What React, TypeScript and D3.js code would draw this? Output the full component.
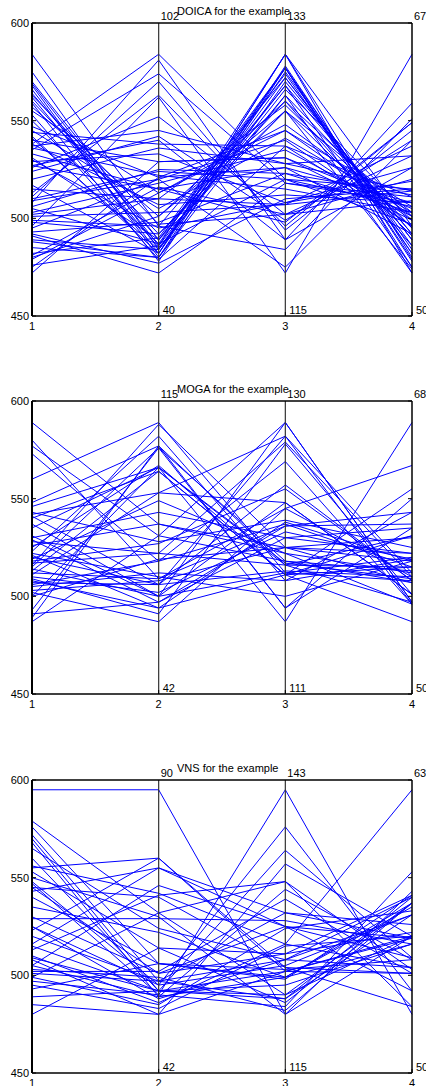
import * as d3 from 'd3';

const axes = ['1', '2', '3', '4'];
const yTicks = [450, 500, 550, 600];

const doicaTop = ['', '102', '133', '67'];
const doicaBottom = ['', '40', '115', '50'];
const mogaTop = ['', '115', '130', '68'];
const mogaBottom = ['', '42', '111', '50'];
const vnsTop = ['', '90', '143', '63'];
const vnsBottom = ['', '42', '115', '50'];

// one row per solution, values on axes 1..4
const doicaLines = [
    [584, 496, 572, 489], [575, 484, 577, 475], [569, 486, 584, 472], [568, 480, 578, 482],
    [566, 482, 575, 486], [564, 489, 568, 492], [562, 485, 563, 495], [560, 492, 560, 499],
    [559, 478, 577, 479], [557, 501, 555, 503], [555, 513, 548, 501], [547, 521, 545, 506],
    [544, 538, 537, 511], [542, 482, 584, 496], [540, 529, 531, 499], [538, 584, 520, 515],
    [537, 545, 528, 514], [535, 574, 518, 508], [533, 515, 526, 492], [531, 489, 574, 482],
    [529, 533, 508, 526], [526, 552, 502, 532], [524, 542, 499, 540], [513, 563, 496, 549],
    [511, 570, 494, 545], [508, 581, 489, 559], [506, 525, 523, 503], [503, 518, 535, 501],
    [502, 510, 558, 495], [501, 503, 507, 537], [499, 496, 484, 551], [496, 562, 472, 584],
    [495, 520, 475, 540], [492, 477, 510, 515], [491, 472, 518, 511], [489, 484, 572, 489],
    [482, 490, 577, 478], [480, 501, 560, 486], [479, 513, 545, 499], [475, 521, 526, 508],
    [472, 529, 531, 505], [476, 486, 568, 475], [488, 480, 563, 472], [498, 492, 555, 491],
    [510, 524, 520, 506], [515, 510, 507, 514], [520, 536, 528, 532], [527, 515, 498, 549],
    [530, 495, 508, 519], [545, 505, 541, 503], [550, 487, 520, 497], [553, 479, 537, 496],
    [563, 497, 502, 520], [570, 489, 555, 474], [517, 482, 584, 480], [505, 487, 577, 484],
    [485, 480, 570, 492], [493, 498, 523, 512], [538, 507, 512, 508], [527, 540, 489, 526],
    [541, 484, 566, 501], [509, 520, 540, 496], [481, 516, 502, 509], [536, 522, 515, 503],
];

const mogaLines = [
    [589, 537, 525, 518], [580, 509, 545, 510], [577, 531, 589, 497], [573, 518, 569, 496],
    [560, 589, 512, 520], [548, 577, 494, 535], [546, 566, 516, 515], [542, 553, 582, 512],
    [541, 506, 557, 508], [537, 500, 548, 501], [530, 543, 530, 522], [528, 522, 579, 510],
    [525, 567, 511, 531], [523, 582, 508, 543], [521, 494, 538, 518], [519, 549, 522, 496],
    [518, 527, 555, 508], [515, 576, 518, 507], [513, 564, 511, 555], [512, 509, 536, 537],
    [510, 502, 533, 519], [509, 491, 578, 501], [506, 518, 537, 515], [503, 508, 525, 522],
    [502, 487, 545, 567], [500, 566, 487, 589], [493, 576, 494, 550], [491, 497, 530, 535],
    [489, 577, 516, 531], [487, 531, 518, 513], [520, 506, 513, 510], [514, 500, 512, 508],
    [517, 522, 516, 497], [508, 494, 511, 487], [526, 537, 522, 512], [505, 512, 508, 519],
    [529, 497, 536, 543], [535, 566, 517, 509], [540, 564, 511, 515], [516, 588, 525, 507],
    [511, 553, 548, 501], [522, 510, 500, 518], [531, 500, 589, 497], [507, 506, 582, 496],
    [543, 528, 539, 525], [500, 519, 525, 530],
];

const vnsLines = [
    [595, 595, 480, 520], [579, 532, 490, 537], [576, 506, 498, 541], [572, 497, 488, 531],
    [570, 492, 502, 520], [568, 489, 499, 516], [565, 524, 508, 540], [556, 542, 516, 504],
    [555, 560, 502, 501], [553, 514, 486, 537], [550, 530, 480, 543], [548, 495, 505, 531],
    [547, 490, 484, 553], [545, 501, 511, 541], [543, 555, 525, 519], [529, 529, 528, 516],
    [525, 495, 576, 492], [523, 560, 504, 484], [513, 541, 548, 503], [509, 492, 564, 509],
    [508, 480, 557, 520], [505, 489, 544, 508], [502, 502, 539, 501], [501, 497, 532, 526],
    [499, 485, 524, 533], [497, 490, 595, 480], [493, 506, 499, 537], [489, 492, 488, 540],
    [485, 480, 502, 519], [480, 514, 511, 522], [516, 555, 532, 519], [520, 497, 508, 504],
    [535, 522, 499, 535], [540, 506, 503, 508], [560, 492, 495, 516], [505, 546, 525, 492],
    [499, 532, 548, 484], [510, 486, 516, 595], [525, 488, 508, 531], [503, 499, 482, 537],
    [515, 492, 490, 520], [545, 540, 504, 501], [495, 483, 515, 520], [530, 501, 525, 509],
];

const panels = [
    {title: 'DOICA for the example', top: 23, rows: doicaLines, topLabels: doicaTop, bottomLabels: doicaBottom},
    {title: 'MOGA for the example', top: 401, rows: mogaLines, topLabels: mogaTop, bottomLabels: mogaBottom},
    {title: 'VNS for the example', top: 780, rows: vnsLines, topLabels: vnsTop, bottomLabels: vnsBottom},
];

const font = '"Liberation Sans", Arial, sans-serif';
const plotH = 293;
const x = d3.scalePoint<string>().domain(axes).range([32, 412]);

function Panel({p}: {p: (typeof panels)[number]}) {
    const y = d3.scaleLinear().domain([450, 600]).range([p.top + plotH, p.top]);
    const line = d3
        .line<number>()
        .x((_, i) => x(axes[i]) as number)
        .y((d) => y(d));
    const x0 = x(axes[0]) as number;
    const x1 = x(axes[axes.length - 1]) as number;
    return (
        <g fontFamily={font} fontSize={11} fill="#000">
            <g fill="none" stroke="#0000ff" strokeWidth={1}>
                {p.rows.map((r, i) => (
                    <path key={i} d={line(r) || ''} />
                ))}
            </g>
            {/* inner axes */}
            {axes.slice(1, -1).map((a) => (
                <line key={a} x1={x(a)} x2={x(a)} y1={y(450)} y2={y(600)} stroke="#333" strokeWidth={1.2} />
            ))}
            {/* frame */}
            <line x1={x0} x2={x1} y1={y(600)} y2={y(600)} stroke="#000" strokeWidth={1.5} />
            <line x1={x0} x2={x1} y1={y(450)} y2={y(450)} stroke="#000" strokeWidth={1.5} />
            <line x1={x0} x2={x0} y1={y(450)} y2={y(600)} stroke="#000" strokeWidth={2} />
            <line x1={x1} x2={x1} y1={y(450)} y2={y(600)} stroke="#000" strokeWidth={1.5} />
            {yTicks.map((t) => (
                <g key={t}>
                    <line x1={x0} x2={x0 + 4} y1={y(t)} y2={y(t)} stroke="#000" />
                    <line x1={x1 - 4} x2={x1} y1={y(t)} y2={y(t)} stroke="#000" />
                    <text x={x0 - 3} y={y(t) + 4} textAnchor="end">
                        {t}
                    </text>
                </g>
            ))}
            {axes.map((a, i) => (
                <g key={a}>
                    <line x1={x(a)} x2={x(a)} y1={y(450)} y2={y(450) - 4} stroke="#000" />
                    <text x={x(a)} y={y(450) + 14} textAnchor="middle">
                        {a}
                    </text>
                    <text x={(x(a) as number) + 2} y={y(600) - 3}>
                        {p.topLabels[i]}
                    </text>
                    <text x={(x(a) as number) + 4} y={y(450) - 2}>
                        {p.bottomLabels[i]}
                    </text>
                </g>
            ))}
            <text x={177} y={y(600) - 8}>
                {p.title}
            </text>
        </g>
    );
}

export default function App() {
    return (
        <svg
            width={426}
            height={1086}
            style={{position: 'absolute', left: 0, top: 0, background: '#fff'}}
        >
            {panels.map((p) => (
                <Panel key={p.title} p={p} />
            ))}
        </svg>
    );
}
